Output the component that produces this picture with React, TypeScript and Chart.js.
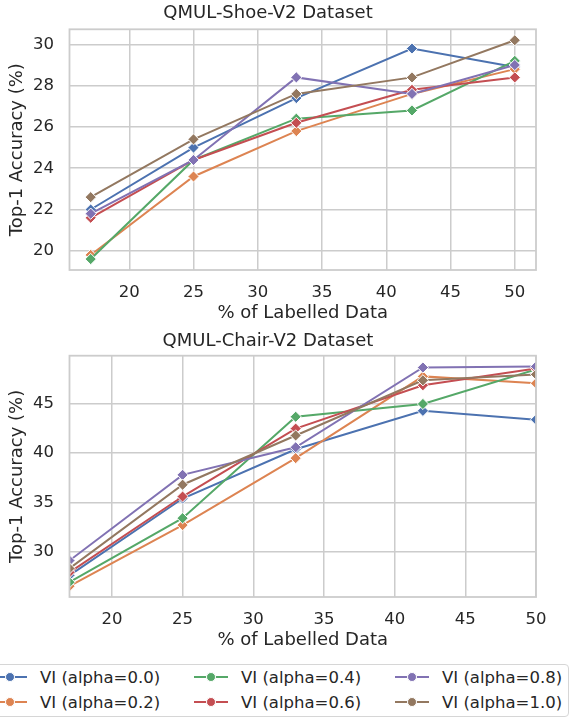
import React, { useEffect, useRef } from "react";
import { Chart, registerables } from "chart.js";

Chart.register(...registerables);

// ---------- data ----------
const xValues = [17, 25, 33, 42, 50];
const seriesLabels = [
  "VI (alpha=0.0)",
  "VI (alpha=0.2)",
  "VI (alpha=0.4)",
  "VI (alpha=0.6)",
  "VI (alpha=0.8)",
  "VI (alpha=1.0)",
];
const seriesColors = ["#4c72b0", "#dd8452", "#55a868", "#c44e52", "#8172b3", "#937860"];

const shoeA00 = [22.0, 25.0, 27.4, 29.8, 28.9];
const shoeA02 = [19.8, 23.6, 25.8, 27.6, 28.8];
const shoeA04 = [19.6, 24.4, 26.4, 26.8, 29.2];
const shoeA06 = [21.6, 24.4, 26.2, 27.8, 28.4];
const shoeA08 = [21.8, 24.4, 28.4, 27.6, 29.0];
const shoeA10 = [22.6, 25.4, 27.6, 28.4, 30.2];

const chairA00 = [27.6, 35.4, 40.4, 44.3, 43.4];
const chairA02 = [26.5, 32.7, 39.5, 47.8, 47.1];
const chairA04 = [26.9, 33.4, 43.7, 45.0, 48.5];
const chairA06 = [27.9, 35.6, 42.5, 46.9, 48.6];
const chairA08 = [29.1, 37.8, 40.6, 48.7, 48.8];
const chairA10 = [28.3, 36.8, 41.8, 47.4, 48.0];

const shoeSeries = [shoeA00, shoeA02, shoeA04, shoeA06, shoeA08, shoeA10];
const chairSeries = [chairA00, chairA02, chairA04, chairA06, chairA08, chairA10];

const xTickValues = [20, 25, 30, 35, 40, 45, 50];
const shoeYTicks = [20, 22, 24, 26, 28, 30];
const chairYTicks = [30, 35, 40, 45];

const shoeTitle = "QMUL-Shoe-V2 Dataset";
const chairTitle = "QMUL-Chair-V2 Dataset";
const xAxisTitle = "% of Labelled Data";
const yAxisTitle = "Top-1 Accuracy (%)";

// ---------- styling ----------
const FONT = "'DejaVu Sans', 'Liberation Sans', sans-serif";
const TEXT = "#262626";
const GRID = "#cccccc";

Chart.defaults.font.family = FONT;

const framePlugin = {
  id: "frame",
  afterDatasetsDraw(chart: any) {
    const { ctx, chartArea: a } = chart;
    ctx.save();
    ctx.strokeStyle = GRID;
    ctx.lineWidth = 1.8;
    ctx.strokeRect(a.left, a.top, a.right - a.left, a.bottom - a.top);
    ctx.restore();
  },
};

type ChartProps = {
  top: number;
  height: number;
  title: string;
  series: number[][];
  xMin: number;
  xMax: number;
  yMin: number;
  yMax: number;
  yTicks: number[];
  areaLeft: number;
  areaRight: number;
  areaTop: number;
  areaBottom: number;
  titleCenter: number;
  tickCenter: number;
  xTitleCenter: number;
};

function LineChart(p: ChartProps) {
  const ref = useRef<HTMLCanvasElement | null>(null);
  useEffect(() => {
    if (!ref.current) return;
    const W = 575;
    const titleFont = 18;
    const tickFont = 16.5;
    const titleLH = titleFont * 1.2;
    const tickLH = tickFont * 1.2;
    const titlePadTop = p.titleCenter - titleLH / 2;
    const titlePadBottom = p.areaTop - titlePadTop - titleLH;
    const xHeight = p.height - p.areaBottom;
    const xTickPad = p.tickCenter - p.areaBottom - tickLH / 2;
    const xTitlePadBottom = p.height - p.xTitleCenter - titleLH / 2;

    const datasets = p.series.map((vals, i) => ({
      label: seriesLabels[i],
      data: xValues.map((x, j) => ({ x, y: vals[j] })),
      borderColor: seriesColors[i],
      backgroundColor: seriesColors[i],
      pointBackgroundColor: seriesColors[i],
      pointBorderColor: "#ffffff",
      pointBorderWidth: 1,
      pointRadius: 5.6,
      pointStyle: "rectRot",
      borderWidth: 2,
      tension: 0,
      clip: 0,
      order: p.series.length - i,
    }));

    const chart = new Chart(ref.current, {
      type: "line",
      data: { datasets },
      plugins: [framePlugin],
      options: {
        animation: false,
        responsive: false,
        devicePixelRatio: 1,
        events: [],
        layout: { padding: { left: 0, right: W - p.areaRight, top: 0, bottom: 0 } },
        plugins: {
          legend: { display: false },
          tooltip: { enabled: false },
          title: {
            display: true,
            text: p.title,
            color: TEXT,
            font: { family: FONT, size: titleFont, weight: "normal" },
            padding: { top: titlePadTop, bottom: titlePadBottom },
          },
        },
        scales: {
          x: {
            type: "linear",
            min: p.xMin,
            max: p.xMax,
            afterBuildTicks: (s: any) => {
              s.ticks = xTickValues.map((v) => ({ value: v }));
            },
            afterFit: (s: any) => {
              s.height = xHeight;
            },
            grid: { color: GRID, lineWidth: 1.5, drawTicks: false },
            border: { display: false },
            ticks: {
              color: TEXT,
              font: { family: FONT, size: tickFont },
              padding: xTickPad,
              maxRotation: 0,
              autoSkip: false,
            },
            title: {
              display: true,
              text: xAxisTitle,
              color: TEXT,
              font: { family: FONT, size: titleFont },
              padding: { top: 0, bottom: xTitlePadBottom },
            },
          },
          y: {
            type: "linear",
            min: p.yMin,
            max: p.yMax,
            afterBuildTicks: (s: any) => {
              s.ticks = p.yTicks.map((v) => ({ value: v }));
            },
            afterFit: (s: any) => {
              s.width = p.areaLeft;
            },
            grid: { color: GRID, lineWidth: 1.5, drawTicks: false },
            border: { display: false },
            ticks: {
              color: TEXT,
              font: { family: FONT, size: tickFont },
              padding: 15.5,
              autoSkip: false,
            },
            title: {
              display: true,
              text: yAxisTitle,
              color: TEXT,
              font: { family: FONT, size: titleFont },
              padding: { top: 6.2, bottom: 0 },
            },
          },
        },
      } as any,
    });
    return () => chart.destroy();
  }, []);
  return (
    <canvas
      ref={ref}
      width={575}
      height={p.height}
      style={{ position: "absolute", left: 0, top: p.top, width: 575, height: p.height }}
    />
  );
}

function Legend() {
  const colStarts = [-7, 194, 395];
  const rowCenters = [677, 702];
  const items: any[] = [];
  seriesLabels.forEach((label, i) => {
    const col = Math.floor(i / 2);
    const row = i % 2;
    const x0 = colStarts[col];
    const cy = rowCenters[row];
    const color = seriesColors[i];
    items.push(
      <div
        key={"l" + i}
        style={{
          position: "absolute",
          left: x0,
          top: cy - 1.1,
          width: 34,
          height: 2.2,
          background: color,
        }}
      />
    );
    items.push(
      <div
        key={"c" + i}
        style={{
          position: "absolute",
          left: x0 + 17 - 5,
          top: cy - 5,
          width: 10,
          height: 10,
          borderRadius: "50%",
          background: color,
          boxSizing: "border-box",
          border: "1px solid #ffffff",
        }}
      />
    );
    items.push(
      <div
        key={"t" + i}
        style={{
          position: "absolute",
          left: x0 + 47,
          top: cy - 9,
          height: 20,
          lineHeight: "20px",
          fontFamily: FONT,
          fontSize: 16.5,
          color: TEXT,
          whiteSpace: "nowrap",
        }}
      >
        {label}
      </div>
    );
  });
  return (
    <div style={{ position: "absolute", left: 0, top: 0, width: 575, height: 718 }}>
      <div
        style={{
          position: "absolute",
          left: -12,
          top: 664,
          width: 581,
          height: 52.5,
          boxSizing: "border-box",
          border: "1px solid #d6d6d6",
          borderRadius: 4,
          background: "#ffffff",
        }}
      />
      {items}
    </div>
  );
}

export default function App() {
  return (
    <div
      style={{
        position: "absolute",
        left: 0,
        top: 0,
        width: 575,
        height: 718,
        overflow: "hidden",
        background: "#ffffff",
      }}
    >
      <LineChart
        top={0}
        height={330}
        title={shoeTitle}
        series={shoeSeries}
        xMin={15.35}
        xMax={51.65}
        yMin={19.07}
        yMax={30.73}
        yTicks={shoeYTicks}
        areaLeft={69.5}
        areaRight={536}
        areaTop={29.3}
        areaBottom={270}
        titleCenter={13.7}
        tickCenter={293}
        xTitleCenter={313.6}
      />
      <LineChart
        top={330}
        height={330}
        title={chairTitle}
        series={chairSeries}
        xMin={17}
        xMax={50}
        yMin={25.4}
        yMax={49.9}
        yTicks={chairYTicks}
        areaLeft={69.5}
        areaRight={536}
        areaTop={25.7}
        areaBottom={267}
        titleCenter={11.3}
        tickCenter={290}
        xTitleCenter={310.6}
      />
      <Legend />
    </div>
  );
}
